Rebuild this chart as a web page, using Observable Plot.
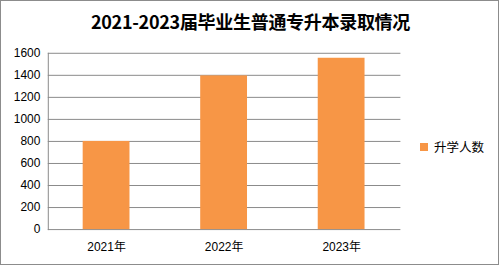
<!DOCTYPE html>
<html><head><meta charset="utf-8">
<script src="https://cdn.jsdelivr.net/npm/d3@7"></script>
<script src="https://cdn.jsdelivr.net/npm/@observablehq/plot@0.6"></script>
<style>
body{margin:0;background:#fff;}
#wrap{position:relative;width:499px;height:265px;box-sizing:border-box;border:1px solid #8c8c8c;overflow:hidden;font-family:"Noto Sans CJK SC","Noto Sans",sans-serif;}
#title{position:absolute;left:0;top:7px;width:499px;text-align:center;font-size:18px;font-weight:bold;color:#000;letter-spacing:-0.3px;}
#legend{position:absolute;left:419px;top:136px;font-size:12.5px;color:#000;display:flex;align-items:center;}
#legend span.sw{display:inline-block;width:8px;height:8px;background:#F79646;margin-right:6px;}
svg.plot{position:absolute;left:-1px;top:-1px;}
</style></head>
<body>
<div id="wrap"><div id="title"></div><div id="legend"></div></div>
<script>
const titleText = "2021-2023届毕业生普通专升本录取情况";
const seriesName = "升学人数";
const categories = ["2021年", "2022年", "2023年"];
const values = [800, 1395, 1555];
const yTicks = [0, 200, 400, 600, 800, 1000, 1200, 1400, 1600];

const data = categories.map((c, i) => ({cat: c, v: values[i]}));
document.getElementById("title").textContent = titleText;
document.getElementById("legend").innerHTML = '<span class="sw"></span><span></span>';
document.getElementById("legend").lastChild.textContent = seriesName;

const chart = Plot.plot({
  width: 499, height: 265,
  marginTop: 52, marginBottom: 36, marginLeft: 47, marginRight: 98,
  style: {fontFamily: "'Liberation Sans', 'Noto Sans CJK SC', sans-serif", fontSize: "12px", color: "#000", background: "transparent"},
  x: {domain: categories, paddingInner: 0.6, paddingOuter: 0.3, label: null},
  y: {domain: [0, 1600], label: null},
  marks: [
    Plot.ruleY(yTicks, {stroke: "#8a8a8a", strokeWidth: 1}),
    Plot.barY(data, {x: "cat", y: "v", fill: "#F79646"}),
    Plot.frame({anchor: "left", stroke: "#8a8a8a"}),
    Plot.axisY(yTicks, {tickSize: 0, tickPadding: 8, tickFormat: "d", label: null, fill: "#000"}),
    Plot.axisX({tickSize: 0, tickPadding: 13, label: null, fill: "#000"})
  ]
});
document.getElementById("wrap").appendChild(chart);
</script>
</body></html>
